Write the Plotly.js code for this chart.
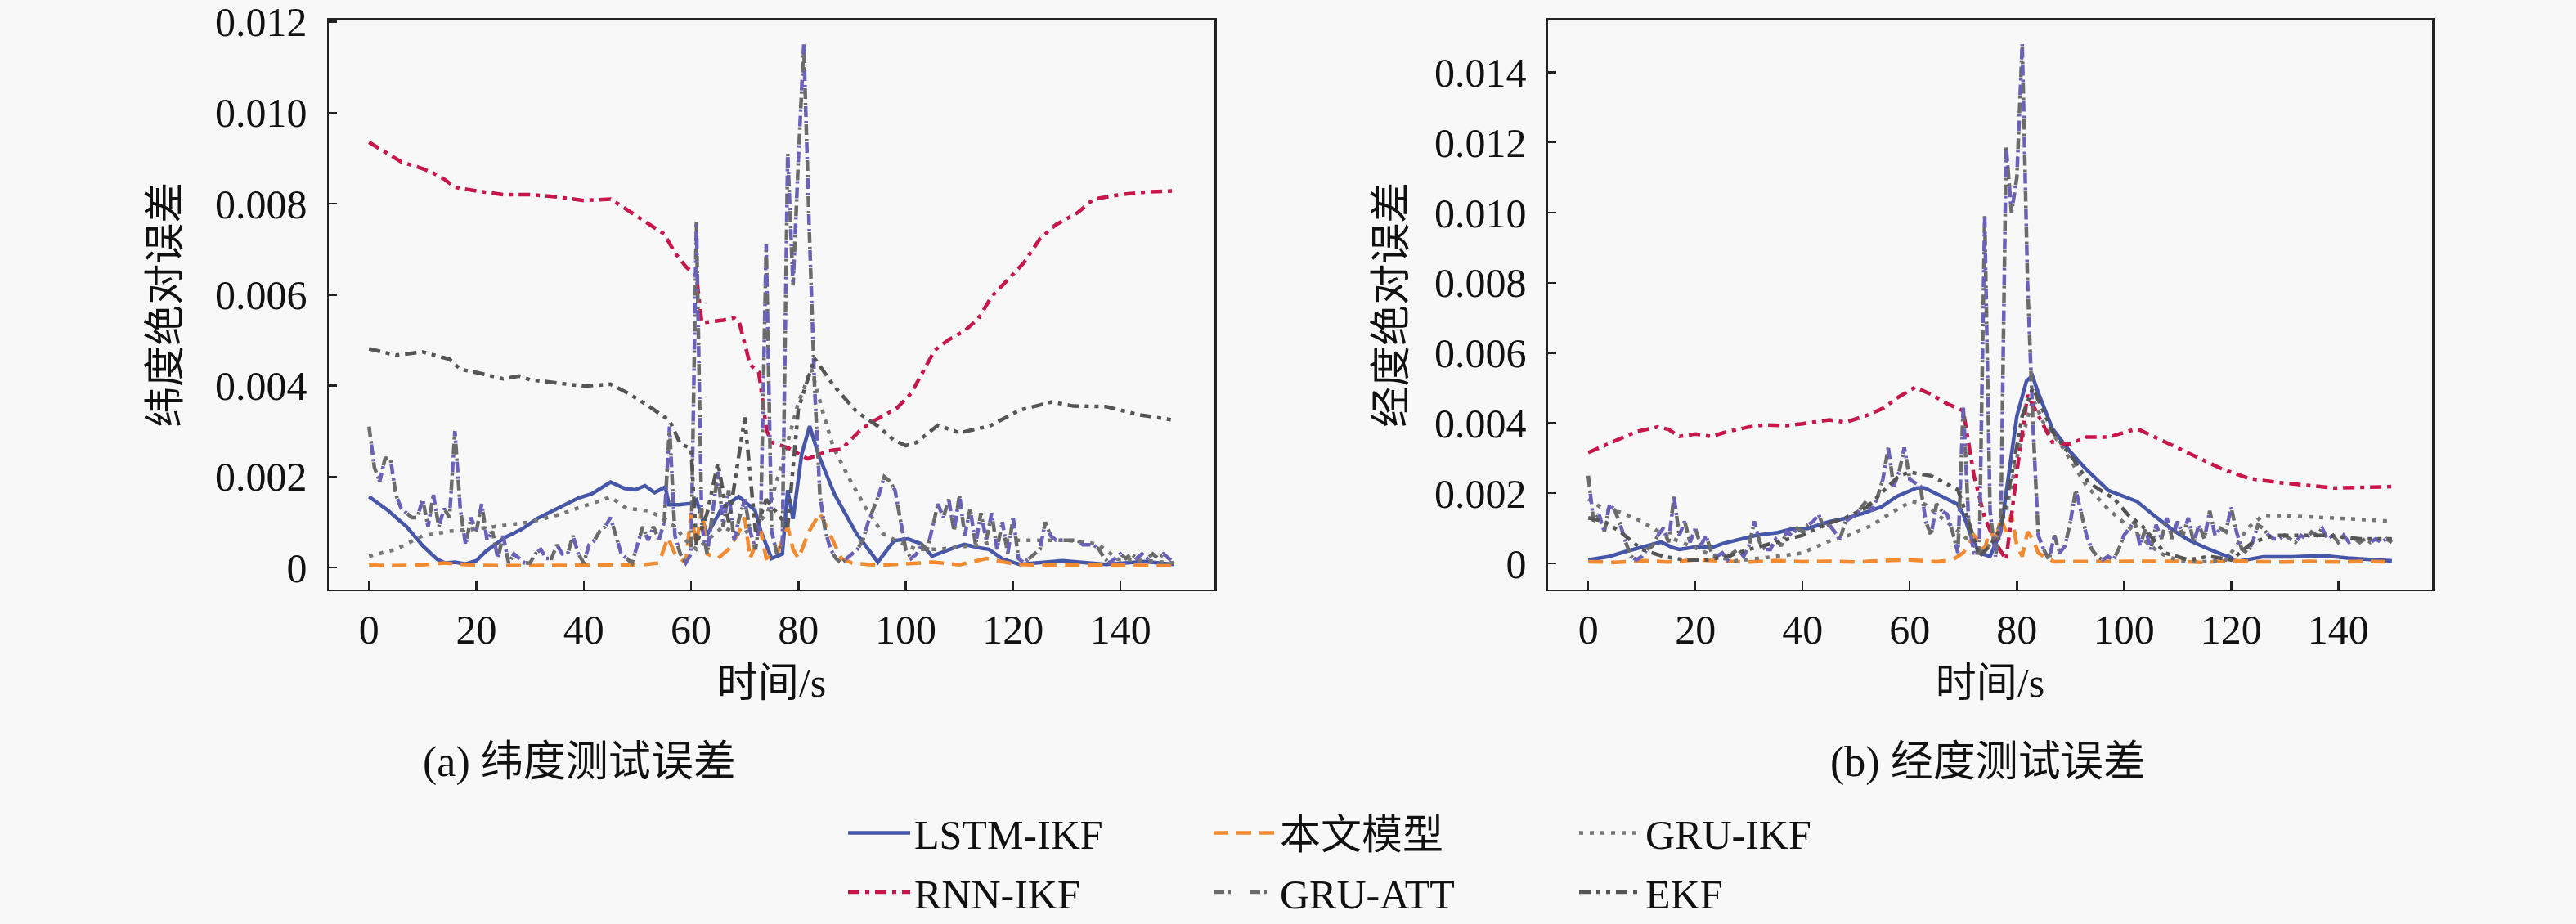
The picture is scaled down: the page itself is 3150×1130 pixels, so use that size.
<!DOCTYPE html>
<html>
<head>
<meta charset="utf-8">
<script src="https://cdn.plot.ly/plotly-3.0.1.min.js"></script>
<style>html,body{margin:0;padding:0;background:#f8f8f8;}#chart{width:3150px;height:1130px;}</style>
</head>
<body>
<div id="chart"></div>
<script>
// ---------- labels ----------
const seriesNames = ['LSTM-IKF', '本文模型', 'GRU-IKF', 'RNN-IKF', 'GRU-ATT', 'EKF'];
const xTickVals = [0, 20, 40, 60, 80, 100, 120, 140];
const latYTickVals = [0, 0.002, 0.004, 0.006, 0.008, 0.010, 0.012];
const latYTickText = ['0', '0.002', '0.004', '0.006', '0.008', '0.010', '0.012'];
const lonYTickVals = [0, 0.002, 0.004, 0.006, 0.008, 0.010, 0.012, 0.014];
const lonYTickText = ['0', '0.002', '0.004', '0.006', '0.008', '0.010', '0.012', '0.014'];
const xTitle = '时间/s';
const latYTitle = '纬度绝对误差';
const lonYTitle = '经度绝对误差';
const latCaption = '(a) 纬度测试误差';
const lonCaption = '(b) 经度测试误差';

// time samples (s) for the 1 s sampled GRU-ATT curves
const tSec = Array.from({length: 151}, (_, i) => i);

// ---------- (a) latitude ----------
const latLstmT = [0,3.5,7,10,12.7,14.2,16,18,20,21.8,25.3,28.4,31.4,35.4,39,41.5,45,47.6,49.6,51.4,53.2,55.2,55.9,57.7,60,61,63,65.8,68.9,71.9,73,75,77,78,79,80.6,82.1,83.7,86.7,90.8,94.8,97.8,100.4,102.9,104.9,108.9,110.9,113.9,115.5,118,121.2,129.2,137.3,144.4,150];
const latLstmV = [0.00156,0.00126,0.0009,0.00048,0.00018,0.0001,0.00012,0.00008,0.00015,0.00036,0.00066,0.00084,0.00108,0.00132,0.00153,0.00162,0.00188,0.00174,0.00171,0.0018,0.00165,0.00177,0.00138,0.00138,0.00141,0.00149,0.00072,0.00132,0.00156,0.00126,0.0008,0.0002,0.0003,0.0017,0.00107,0.00249,0.00311,0.00249,0.00162,0.00075,0.00012,0.00059,0.00063,0.00052,0.00025,0.00043,0.00051,0.00043,0.0004,0.00019,0.00007,0.00015,0.00007,0.00013,0.00007];

const latOursT = [0,5,10,14,16,20,25,30,35,40,45,50,54,55.7,57,59,60,61,62,63,65,67,69,70,71,72,73,74,76,78,79,80,82,84,86,88,90,95,100,105,110,115,120,125,130,140,150];
const latOursV = [0.00005,0.00004,0.00006,0.0001,0.00008,0.00005,0.00004,0.00005,0.00004,0.00005,0.00006,0.00005,0.0001,0.00066,0.0003,0.0001,0.0012,0.0005,0.0013,0.0003,0.0002,0.0004,0.0008,0.0011,0.0002,0.0005,0.0008,0.0002,0.0003,0.0009,0.0004,0.0002,0.0008,0.0012,0.0007,0.0002,0.0001,0.00005,0.00008,0.00012,0.00006,0.0002,0.00008,0.00005,0.00006,0.00005,0.00004];

const latGruT = [0,5,10,15,20,25,30,35,40,45,48,52,55,57,59,61,63,66,69,72,74.3,77.4,79.9,82.4,84.5,86.5,89.6,92.6,95.7,98.2,102,106,110,114,117,121,126,130,134,136,139.5,145,150];
const latGruV = [0.00025,0.0004,0.0007,0.0008,0.00085,0.00092,0.001,0.00115,0.00135,0.00155,0.0013,0.00125,0.00108,0.0009,0.0006,0.0004,0.0006,0.0009,0.0007,0.0009,0.00122,0.00249,0.00359,0.00437,0.00344,0.00265,0.00193,0.0013,0.00075,0.00059,0.0004,0.0004,0.00045,0.0005,0.0006,0.0006,0.0006,0.0006,0.00055,0.0005,0.00018,0.00015,0.0001];

const latRnnT = [0,3,6,10,12,14,16,20,25,30,35,40,45,47,50,55,57,59,61,62,66,68,69,71,72.6,74.1,75.1,78.1,81.7,85.7,88,91.7,94.3,98.3,101,103,105.4,108,111,113.5,116,119.6,122,125,128,132,135,140,145,150];
const latRnnV = [0.00935,0.00913,0.00892,0.00877,0.00867,0.00854,0.00836,0.00828,0.0082,0.0082,0.00815,0.00807,0.0081,0.00795,0.00772,0.00733,0.00692,0.00662,0.00641,0.00538,0.00544,0.00549,0.00538,0.00446,0.0043,0.003,0.00275,0.00263,0.00239,0.00257,0.0026,0.00304,0.00324,0.0035,0.00383,0.00426,0.00478,0.00501,0.00521,0.00547,0.00596,0.0064,0.0067,0.00723,0.00754,0.0078,0.0081,0.0082,0.00826,0.00828];

const latAttV = [0.0031,0.0022,0.0019,0.0024,0.0024,0.0016,0.0013,0.0012,0.0011,0.0011,
  0.0015,0.0009,0.0016,0.0009,0.0013,0.0011,0.0030,0.0013,0.0005,0.0011,
  0.0008,0.0014,0.0006,0.0008,0.0002,0.0007,0.0001,0.0003,0.0002,0.0001,
  0.0001,0.0003,0.0004,0.0002,0.0002,0.0005,0.0003,0.0003,0.0007,0.0003,
  0.0001,0.0005,0.0006,0.0008,0.0009,0.0011,0.0007,0.0003,0.0002,0.0001,
  0.0005,0.0009,0.0006,0.0009,0.0006,0.0010,0.0031,0.0007,0.0003,0.0001,
  0.0003,0.0076,0.0009,0.0003,0.0012,0.0021,0.0009,0.0017,0.0006,0.0011,
  0.0015,0.0008,0.0004,0.0012,0.0071,0.0008,0.0003,0.0005,0.0091,0.0062,
  0.0090,0.0115,0.0075,0.0040,0.0016,0.0008,0.0004,0.0002,0.0001,0.0002,
  0.0003,0.0004,0.0006,0.0010,0.0013,0.0016,0.0020,0.0019,0.0017,0.0010,
  0.0004,0.0002,0.0003,0.0005,0.0004,0.0009,0.0014,0.0011,0.0015,0.0008,
  0.0016,0.0007,0.0013,0.0005,0.0012,0.0006,0.0012,0.0004,0.0010,0.0003,
  0.0011,0.0002,0.0001,0.0002,0.0003,0.0004,0.0010,0.0007,0.0006,0.0006,
  0.0006,0.0006,0.0006,0.0005,0.0005,0.0005,0.0004,0.0002,0.0001,0.0002,
  0.0003,0.0002,0.0003,0.0002,0.0003,0.0002,0.0003,0.0002,0.0003,0.0002,
  0.0001];

const latEkfT = [0,5,10,15,17,20,25,28,30,35,40,45,48,52,56,58,60,61,63,65,67,70,72,74,76,78,80,83,86.7,90.8,94.8,97.8,100,102,106,110,115.6,121.2,127.2,131.2,137.3,143.4,150];
const latEkfV = [0.00481,0.00467,0.00474,0.00458,0.00436,0.00429,0.00415,0.00421,0.00413,0.00407,0.00399,0.00403,0.00385,0.00356,0.00323,0.00272,0.00262,0.0005,0.0012,0.0023,0.0010,0.0033,0.0008,0.0015,0.0012,0.0009,0.0035,0.0046,0.00398,0.00343,0.00311,0.0028,0.00268,0.00275,0.00313,0.00296,0.00311,0.00346,0.00364,0.00355,0.00354,0.00336,0.00324];

// ---------- (b) longitude ----------
const lonLstmT = [0,4,7,10,13.6,15.6,17,19.7,23.2,25.2,28.3,31.3,35.4,38.4,41,45,47.6,51.1,54.7,57.7,61.3,62.8,65.9,68.9,70,71.5,73,75,77,78.2,80,81.8,82.9,83.9,86.6,89.7,92.9,97.1,99.7,102.4,105.5,108.7,111.8,115,118.2,119.7,121,126,131.3,137.1,141.8,150];
const lonLstmV = [0.0001,0.0002,0.00034,0.00046,0.00061,0.00046,0.0004,0.00046,0.00046,0.00057,0.00069,0.0008,0.00088,0.001,0.001,0.00119,0.00127,0.00142,0.00161,0.00192,0.00215,0.00215,0.00192,0.00169,0.0014,0.00076,0.0003,0.0002,0.0009,0.0023,0.0042,0.0052,0.00535,0.0049,0.00385,0.00323,0.00269,0.00208,0.00192,0.00177,0.00138,0.001,0.00069,0.00046,0.00026,0.00019,0.00005,0.00019,0.00019,0.00022,0.00015,0.00007];

const lonOursT = [0,5,10,15,20,25,30,35,40,45,50,55,60,65,68,70,72,74,75,76,77,78,79,80,81,82,83,84,85,87,90,95,100,105,110,115,120,125,130,135,140,145,150];
const lonOursV = [0.00005,0.00003,0.00008,0.00004,0.0001,0.00006,0.00004,0.00008,0.00005,0.00006,0.00004,0.00008,0.0001,0.00005,0.0001,0.0003,0.0008,0.0004,0.0010,0.0006,0.0013,0.0009,0.0014,0.0005,0.0002,0.0009,0.0007,0.0003,0.0002,0.00005,0.00005,0.00004,0.00006,0.00004,0.00006,0.00003,0.00008,0.00005,0.00004,0.00006,0.00004,0.00006,0.00004];

const lonGruT = [0,2.9,6,9.5,13,16,19.7,23.2,27.3,32.4,36.4,40,44.5,48.6,52.7,56.7,60.3,62.8,65.4,67.9,70,72,74,76,78,80,83,85,88.2,92.9,97.1,102.4,106.6,110.3,115,119,121,123,126,130,135,140,145,150];
const lonGruV = [0.00184,0.00154,0.00146,0.00123,0.00092,0.00069,0.00046,0.00022,0.00007,0.00015,0.00022,0.0003,0.00061,0.0008,0.00107,0.00146,0.00177,0.00169,0.00138,0.00107,0.0008,0.0005,0.0003,0.0008,0.0015,0.0030,0.0047,0.0040,0.00339,0.00223,0.00154,0.00084,0.0003,0.00007,0.00005,0.0001,0.0005,0.0010,0.00137,0.00136,0.00133,0.0013,0.00125,0.0012];

const lonRnnT = [0,3,6,9,13,15,17,20,23,26,30,33,37,40,45,48,52,55,58,61,64,67,70,72,74,76,78,80,82,84,86.6,89.7,92.9,97.1,101.8,103,107.6,112.9,118.2,123.4,128.7,134,139.2,150];
const lonRnnV = [0.00316,0.00336,0.00356,0.00376,0.00389,0.00382,0.00362,0.00369,0.00362,0.00376,0.00389,0.00395,0.00393,0.00398,0.00409,0.00402,0.00422,0.00442,0.00475,0.00502,0.00482,0.00455,0.00435,0.0025,0.0013,0.0006,0.0001,0.0026,0.0048,0.0042,0.00346,0.00339,0.0036,0.0036,0.00381,0.0038,0.00346,0.00308,0.0027,0.00242,0.00231,0.00223,0.00215,0.00219];

const lonAttV = [0.0025,0.0012,0.0014,0.0009,0.0017,0.0015,0.0011,0.0006,0.0002,0.0001,
  0.0002,0.0004,0.0005,0.0008,0.0010,0.0006,0.0019,0.0008,0.0012,0.0006,
  0.0010,0.0005,0.0008,0.0003,0.0002,0.0003,0.0001,0.0003,0.0004,0.0002,
  0.0005,0.0012,0.0006,0.0004,0.0004,0.0007,0.0005,0.0009,0.0008,0.0010,
  0.0009,0.0011,0.0012,0.0014,0.0010,0.0011,0.0009,0.0007,0.0012,0.0013,
  0.0014,0.0016,0.0018,0.0015,0.0019,0.0024,0.0033,0.0022,0.0026,0.0033,
  0.0024,0.0023,0.0022,0.0012,0.0008,0.0017,0.0015,0.0014,0.0009,0.0003,
  0.0045,0.0012,0.0003,0.0003,0.0099,0.0015,0.0002,0.0010,0.0119,0.0100,
  0.0110,0.0148,0.0080,0.0040,0.0008,0.0004,0.0001,0.0008,0.0003,0.0005,
  0.0012,0.0021,0.0015,0.0008,0.0004,0.0002,0.0001,0.0002,0.0001,0.0004,
  0.0008,0.0010,0.0012,0.0005,0.0010,0.0004,0.0011,0.0007,0.0013,0.0007,
  0.0012,0.0008,0.0013,0.0006,0.0011,0.0007,0.0015,0.0008,0.0010,0.0009,
  0.0016,0.0009,0.0004,0.0003,0.0006,0.0011,0.0010,0.0008,0.0007,0.0007,
  0.0008,0.0007,0.0006,0.0008,0.0007,0.0009,0.0008,0.0010,0.0007,0.0008,
  0.0006,0.0008,0.0006,0.0007,0.0006,0.0007,0.0006,0.0007,0.0006,0.0007,
  0.0006];

const lonEkfT = [0,3,6,10,14,18,22,26,30,35,40,44,48,52,56,58,60,64,69,71,73,75,77,79,81,83,86.6,90.8,93.4,98.2,100.8,103.4,107.6,112,116,120,124,128,133,138,144,150];
const lonEkfV = [0.0013,0.0012,0.0009,0.0004,0.0002,0.0001,0.0001,0.0002,0.0004,0.0006,0.0008,0.0011,0.0013,0.0016,0.0022,0.0025,0.0026,0.0025,0.0021,0.0012,0.0002,0.0005,0.0010,0.0025,0.0042,0.0050,0.00377,0.00292,0.0023,0.00184,0.00138,0.00107,0.0003,0.0001,0.0002,0.0001,0.0006,0.0008,0.0008,0.0008,0.0007,0.0007];

// ---------- styles ----------
const FONT = "'Liberation Serif', 'Noto Sans CJK SC', serif";
const LW = 4.5;
const C_LSTM = '#4656a8';
const C_OURS = '#f28a30';
const C_GRU = '#777777';
const C_RNN = '#c8164a';
const C_ATT_G = '#6b6b6b';
const C_ATT_P = '#6a62b8';
const C_EKF = '#555555';

function panelTraces(sfx, d, showLeg) {
  const xa = 'x' + sfx, ya = 'y' + sfx;
  const base = (name, x, y, color, dash, leg, show) => ({
    type: 'scatter', mode: 'lines', name: name, x: x, y: y, xaxis: xa, yaxis: ya,
    line: {color: color, width: LW, dash: dash}, legend: leg, showlegend: show && showLeg,
    hoverinfo: 'skip'
  });
  return [
    base(seriesNames[0], d.lstmT, d.lstmV, C_LSTM, 'solid', 'legend', true),
    base(seriesNames[1], d.oursT, d.oursV, C_OURS, '18px,10px', 'legend', true),
    base(seriesNames[2], d.gruT, d.gruV, C_GRU, '5px,8px', 'legend', true),
    base(seriesNames[3], d.rnnT, d.rnnV, C_RNN, '14px,7px,5px,7px', 'legend2', true),
    base(seriesNames[4], tSec, d.attV, C_ATT_G, '13px,5px,3px,23px', 'legend2', true),
    base(seriesNames[4], tSec, d.attV, C_ATT_P, '0px,22px,13px,5px,3px,1px', 'legend2', false),
    base(seriesNames[5], d.ekfT, d.ekfV, C_EKF, '14px,7px,5px,7px,5px,7px', 'legend2', true)
  ];
}

const traces = [].concat(
  panelTraces('', {lstmT: latLstmT, lstmV: latLstmV, oursT: latOursT, oursV: latOursV, gruT: latGruT, gruV: latGruV,
    rnnT: latRnnT, rnnV: latRnnV, attV: latAttV, ekfT: latEkfT, ekfV: latEkfV}, true),
  panelTraces('2', {lstmT: lonLstmT, lstmV: lonLstmV, oursT: lonOursT, oursV: lonOursV, gruT: lonGruT, gruV: lonGruV,
    rnnT: lonRnnT, rnnV: lonRnnV, attV: lonAttV, ekfT: lonEkfT, ekfV: lonEkfV}, false)
);

const W = 3150, H = 1130;
const axisCommon = {
  showline: true, mirror: true, linecolor: '#222', linewidth: 2.5,
  ticks: 'inside', ticklen: 10, tickwidth: 2.5, tickcolor: '#222',
  showgrid: false, zeroline: false, ticklabeloverflow: 'allow',
  tickfont: {family: FONT, size: 50, color: '#111'}
};
const yDom = [1 - 724 / H, 1 - 25 / H];
const legCommon = {
  orientation: 'h', xanchor: 'left', yanchor: 'middle',
  bgcolor: 'rgba(0,0,0,0)', borderwidth: 0, itemwidth: 76,
  entrywidth: 356, entrywidthmode: 'pixels', traceorder: 'normal',
  font: {family: FONT, size: 50, color: '#111'}
};

const layout = {
  width: W, height: H,
  margin: {l: 0, r: 0, t: 0, b: 0},
  paper_bgcolor: '#f8f8f8', plot_bgcolor: '#f8f8f8',
  font: {family: FONT, size: 50, color: '#111'},
  xaxis: Object.assign({}, axisCommon, {
    domain: [402 / W, 1485 / W], anchor: 'y', range: [-7.5, 157.5],
    tickvals: xTickVals, ticklabelstandoff: 4,
    title: {text: xTitle, font: {family: FONT, size: 50, color: '#111'}, standoff: 20}
  }),
  yaxis: Object.assign({}, axisCommon, {
    domain: yDom, anchor: 'x', range: [-0.00048, 0.01203],
    tickvals: latYTickVals, ticktext: latYTickText, ticklabelstandoff: 14,
    title: {text: latYTitle, font: {family: FONT, size: 50, color: '#111'}, standoff: 28}
  }),
  xaxis2: Object.assign({}, axisCommon, {
    domain: [1893 / W, 2974 / W], anchor: 'y2', range: [-7.5, 157.5],
    tickvals: xTickVals, ticklabelstandoff: 4,
    title: {text: xTitle, font: {family: FONT, size: 50, color: '#111'}, standoff: 20}
  }),
  yaxis2: Object.assign({}, axisCommon, {
    domain: yDom, anchor: 'x2', range: [-0.00074, 0.01548],
    tickvals: lonYTickVals, ticktext: lonYTickText, ticklabelstandoff: 14,
    title: {text: lonYTitle, font: {family: FONT, size: 50, color: '#111'}, standoff: 20}
  }),
  legend: Object.assign({}, legCommon, {x: 1032 / W, y: 1 - 1023 / H}),
  legend2: Object.assign({}, legCommon, {x: 1032 / W, y: 1 - 1096 / H}),
  annotations: [
    {text: latCaption, xref: 'paper', yref: 'paper', x: 708 / W, y: 1 - 936 / H, xanchor: 'center', yanchor: 'middle',
     showarrow: false, font: {family: FONT, size: 52, color: '#111'}},
    {text: lonCaption, xref: 'paper', yref: 'paper', x: 2431 / W, y: 1 - 936 / H, xanchor: 'center', yanchor: 'middle',
     showarrow: false, font: {family: FONT, size: 52, color: '#111'}}
  ]
};

Plotly.newPlot('chart', traces, layout, {displayModeBar: false, staticPlot: true});
</script>
</body>
</html>
